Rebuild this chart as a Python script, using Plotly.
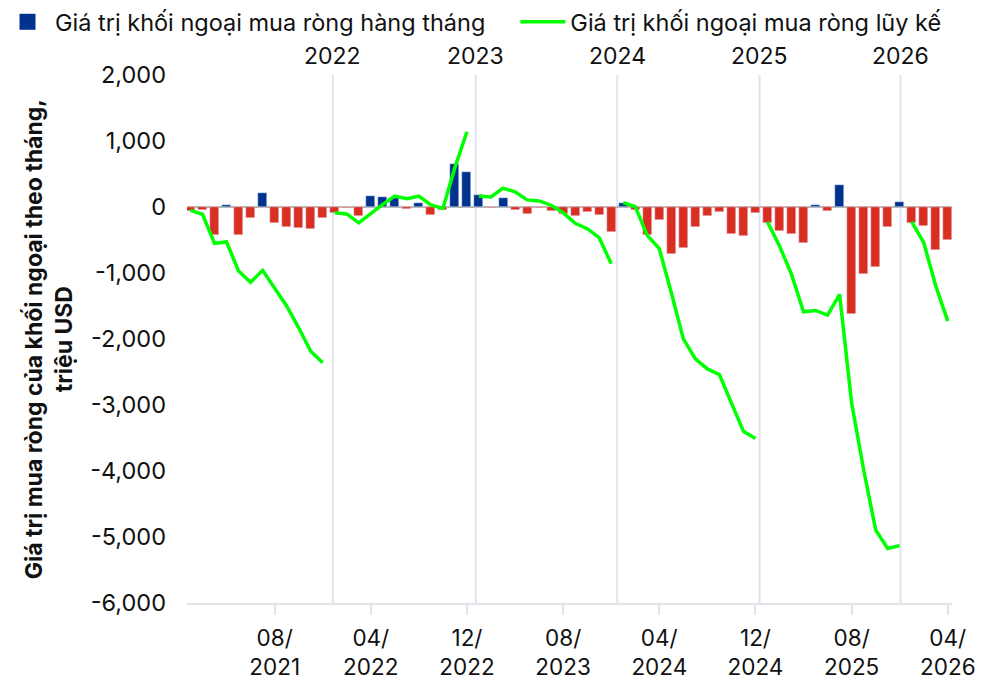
import plotly.graph_objects as go

# Months Jan 2021 .. Apr 2026 (index 0..63)
monthly_net = [
    # 2021
    -60, -50, -430, 25, -430, -172, 212, -248, -309, -324, -339, -172,
    # 2022
    -86, -15, -137, 162, 147, 132, -25, 56, -121, -45, 648, 531,
    # 2023
    182, -10, 132, -46, -106, -8, -61, -101, -137, -76, -121, -380,
    # 2024
    55, -46, -430, -197, -713, -622, -304, -137, -76, -410, -440, -91,
    # 2025
    -243, -364, -410, -547, 25, -61, 329, -1624, -1017, -911, -304, 71,
    # 2026
    -243, -288, -653, -501,
]

cumulative_ytd = [
    # 2021
    -50, -110, -550, -530, -970, -1140, -960, -1220, -1500, -1830, -2185, -2360,
    # 2022
    -86, -105, -240, -95, 40, 165, 125, 165, 30, -22, 600, 1140,
    # 2023
    168, 153, 285, 229, 108, 92, 27, -85, -247, -328, -465, -859,
    # 2024
    67, 7, -429, -631, -1299, -1998, -2302, -2453, -2539, -2969, -3399, -3506,
    # 2025
    -227, -591, -1021, -1587, -1567, -1639, -1325, -2969, -3981, -4892, -5175, -5130,
    # 2026
    -227, -541, -1198, -1729,
]

tick_idx = [7, 15, 23, 31, 39, 47, 55, 63]
tick_text = ["08/<br>2021", "04/<br>2022", "12/<br>2022", "08/<br>2023",
             "04/<br>2024", "12/<br>2024", "08/<br>2025", "04/<br>2026"]

y_tickvals = [-6000, -5000, -4000, -3000, -2000, -1000, 0, 1000, 2000]
y_ticktext = ["-6,000", "-5,000", "-4,000", "-3,000", "-2,000", "-1,000", "0", "1,000", "2,000"]

year_labels = ["2022", "2023", "2024", "2025", "2026"]
year_line_pos = [11.85, 23.73, 35.5, 47.34, 59.06]

BLUE = "#00338D"
RED = "#DA2E22"
GREEN = "#00FF00"
FONT = "Inter"
TXT = "#111111"

x = list(range(len(monthly_net)))
pos = [v if v >= 0 else None for v in monthly_net]
neg = [v if v < 0 else None for v in monthly_net]

# line with breaks at each new year
lx, ly = [], []
for i, v in enumerate(cumulative_ytd):
    if i > 0 and i % 12 == 0:
        lx.append(i - 0.5)
        ly.append(None)
    lx.append(i)
    ly.append(v)

fig = go.Figure()
fig.add_trace(go.Bar(x=x, y=pos, marker_color=BLUE, width=0.75,
                     showlegend=False, name="pos"))
fig.add_trace(go.Bar(x=x, y=neg, marker_color=RED, width=0.75,
                     showlegend=False, name="neg"))
# legend entry for the monthly bars (larger square swatch)
fig.add_trace(go.Scatter(x=[None], y=[None], mode="markers",
                         marker=dict(symbol="square", size=16, color=BLUE),
                         name="Giá trị khối ngoại mua ròng hàng tháng", legend="legend"))
fig.add_trace(go.Scatter(x=lx, y=ly, mode="lines", connectgaps=False,
                         line=dict(color=GREEN, width=3.5),
                         name="Giá trị khối ngoại mua ròng lũy kế", legend="legend2"))

for xp, lab in zip(year_line_pos, year_labels):
    fig.add_shape(type="line", xref="x", yref="paper", x0=xp, x1=xp, y0=0, y1=1,
                  line=dict(color="#DFE4EE", width=2), layer="below")
    fig.add_annotation(x=xp, xref="x", y=1, yref="paper", yanchor="bottom",
                       yshift=3, text=lab, showarrow=False,
                       font=dict(family=FONT, size=23, color=TXT))

fig.add_annotation(xref="paper", yref="paper", x=-0.180, y=0.5,
                   xanchor="center", yanchor="middle", textangle=-90,
                   text="<b>Giá trị mua ròng của khối ngoại theo tháng,</b><br><b>triệu USD</b>",
                   showarrow=False, font=dict(family=FONT, size=23, color=TXT))

legend_common = dict(orientation="h", xref="container", yref="container",
                     xanchor="left", yanchor="top", itemwidth=45,
                     font=dict(family=FONT, size=23.5, color=TXT),
                     bgcolor="rgba(0,0,0,0)")

fig.update_layout(
    width=993, height=684,
    margin=dict(l=187, r=41, t=75, b=81, autoexpand=False),
    paper_bgcolor="white", plot_bgcolor="white",
    barmode="overlay", bargap=0,
    font=dict(family=FONT, size=20, color=TXT),
    legend=dict(x=0.0, y=1.0, **legend_common),
    legend2=dict(x=0.519, y=1.0, **legend_common),
    xaxis=dict(range=[-0.29, 63.35], tickmode="array", tickvals=tick_idx,
               ticktext=tick_text, showgrid=False, zeroline=False,
               showline=True, linecolor="#E3E4EA", linewidth=2,
               ticks="outside", ticklen=10, tickcolor="#E3E4EA", tickwidth=2,
               ticklabelstandoff=4,
               tickfont=dict(family=FONT, size=22.5, color=TXT)),
    yaxis=dict(range=[-6000, 2000], tickmode="array", tickvals=y_tickvals,
               ticktext=y_ticktext, showgrid=False, zeroline=True,
               zerolinecolor="#B4B4B4", zerolinewidth=2, showline=False,
               ticklabelstandoff=20,
               tickfont=dict(family=FONT, size=23.5, color=TXT)),
)

fig.write_html("out.html", config={"displayModeBar": False},
               post_script="document.body.style.margin='0';document.body.style.padding='0';")
